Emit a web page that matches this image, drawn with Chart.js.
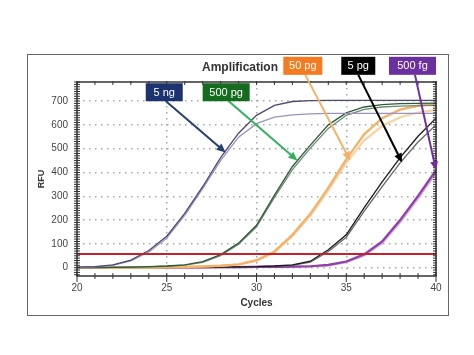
<!DOCTYPE html>
<html><head><meta charset="utf-8">
<script src="https://cdn.jsdelivr.net/npm/chart.js@4.4.1/dist/chart.umd.min.js"></script>
<style>
html,body{margin:0;padding:0;background:#fff;}
#wrap{position:relative;width:474px;height:355px;}
#frame{position:absolute;left:27px;top:54px;width:422px;height:262px;border:1.5px solid #666;box-sizing:border-box;pointer-events:none;}
</style></head><body>
<div id="wrap"><canvas id="c" width="474" height="355"></canvas><div id="frame"></div></div>
<script>
// ---- data ----
const cycles   = [20,21,22,23,24,25,26,27,28,29,30,31,32,33,34,35,36,37,38,39,40];
const ng5A     = [2,4,12,32,72,132,228,340,462,565,640,682,698,702,703,703,703,703,703,703,703];
const ng5B     = [0,3,10,28,66,124,220,332,450,548,605,632,642,646,648,648,648,648,648,648,648];
const pg500A   = [0,0,1,2,4,7,12,25,55,103,178,305,425,515,600,650,675,685,689,690,691];
const pg500B   = [0,0,1,2,3,6,11,22,50,98,172,295,412,502,585,640,665,675,679,681,682];
const pg50A    = [0,0,0,1,1,2,3,5,8,14,31,68,138,226,335,455,560,628,664,680,688];
const pg50B    = [0,0,0,1,1,2,3,5,8,13,29,64,132,218,325,440,535,595,632,652,663];
const pg5A     = [0,0,0,0,0,0,1,1,2,3,4,7,12,27,75,138,252,360,462,552,628];
const pg5B     = [0,0,0,0,0,0,1,1,2,3,4,6,10,23,68,128,238,340,440,528,600];
const fg500A   = [0,0,0,0,0,1,1,1,2,2,3,3,4,6,12,26,56,110,200,302,410];
const fg500B   = [0,0,0,0,0,1,1,1,2,2,3,3,4,5,10,23,52,104,192,292,400];
const threshold = 57;
const seriesNames = ['5 ng','500 pg','50 pg','5 pg','500 fg'];
const xTickLabels = [20,25,30,35,40];
const yTickLabels = [0,100,200,300,400,500,600,700];
const chartTitle = 'Amplification';

// ---- styles ----
const FONT = 'Liberation Sans, Arial, sans-serif';
const lineStyles = [
  {data: ng5A,  color:'#4e4870', w:1.3}, {data: ng5B,  color:'#9a92c0', w:1.3},
  {data: pg500A,color:'#2f5a3a', w:1.3}, {data: pg500B,color:'#6b8a70', w:1.3},
  {data: pg50A, color:'#f3b36a', w:2.4}, {data: pg50B, color:'#f8d3a4', w:2.2},
  {data: pg5A,  color:'#1a1a1a', w:1.3}, {data: pg5B,  color:'#666666', w:1.3},
  {data: fg500A,color:'#8e3fa8', w:2.2}, {data: fg500B,color:'#d49ade', w:2.2}
];
const datasets = lineStyles.map(s => ({
  data: cycles.map((c,i)=>({x:c, y:s.data[i]})),
  borderColor: s.color, borderWidth: s.w, pointRadius: 0, tension: 0, fill:false, order: 2
}));
datasets.push({
  data: [{x:cycles[0], y:threshold}, {x:cycles[cycles.length-1], y:threshold}],
  borderColor:'#c8202a', borderWidth:2, pointRadius:0, tension:0, order:1
});

// callouts: box centre & arrow in data coordinates (cycle, RFU)
const callouts = [
  {name: seriesNames[0], box:[24.86,737], w:37, h:18, from:[24.94,700], to:[28.28,484], bg:'#1c3370', arrow:'#24406e'},
  {name: seriesNames[1], box:[28.31,737], w:47, h:18, from:[28.44,700], to:[32.28,450], bg:'#156b1e', arrow:'#33b060'},
  {name: seriesNames[2], box:[32.58,848], w:39, h:18, from:[32.72,810], to:[35.22,450], bg:'#f47b20', arrow:'#f5b06a'},
  {name: seriesNames[3], box:[35.67,848], w:34, h:18, from:[35.67,810], to:[38.11,442], bg:'#000000', arrow:'#000000'},
  {name: seriesNames[4], box:[38.69,848], w:47, h:18, from:[38.83,810], to:[40.0,409],  bg:'#6b2fa0', arrow:'#7030a0'}
];

const framePlugin = {
  id:'frame',
  afterDatasetsDraw(chart){
    const {ctx, chartArea:a, scales:{x,y}} = chart;
    ctx.save();
    ctx.strokeStyle='#333'; ctx.lineWidth=1.5;
    ctx.strokeRect(a.left, a.top, a.right-a.left, a.bottom-a.top);
    ctx.lineWidth=1;
    ctx.beginPath();
    for(let c=20;c<=40;c++){
      const px=x.getPixelForValue(c);
      const major = c%5===0;
      ctx.moveTo(px, a.bottom-3); ctx.lineTo(px, a.bottom+(major?6:3));
      ctx.moveTo(px, a.top-1); ctx.lineTo(px, a.top+3);
    }
    for(let v=-30; v<=780; v+=10){
      const py=y.getPixelForValue(v);
      ctx.moveTo(a.left-3, py); ctx.lineTo(a.left+3, py);
      ctx.moveTo(a.right-3, py); ctx.lineTo(a.right+1, py);
    }
    ctx.stroke();
    ctx.restore();
  },
  afterDraw(chart){
    const {ctx, scales:{x,y}} = chart;
    ctx.save();
    // chart title
    ctx.fillStyle='#333'; ctx.font='bold 12px '+FONT; ctx.textAlign='center'; ctx.textBaseline='middle';
    ctx.fillText(chartTitle, 240, 68);
    callouts.forEach(co=>{
      const fx=x.getPixelForValue(co.from[0]), fy=y.getPixelForValue(co.from[1]);
      const tx=x.getPixelForValue(co.to[0]), ty=y.getPixelForValue(co.to[1]);
      const ang=Math.atan2(ty-fy, tx-fx), head=9;
      ctx.strokeStyle=co.arrow; ctx.fillStyle=co.arrow; ctx.lineWidth=2;
      ctx.beginPath(); ctx.moveTo(fx,fy);
      ctx.lineTo(tx-Math.cos(ang)*head*0.8, ty-Math.sin(ang)*head*0.8); ctx.stroke();
      ctx.beginPath(); ctx.moveTo(tx,ty);
      ctx.lineTo(tx-head*Math.cos(ang)+4*Math.sin(ang), ty-head*Math.sin(ang)-4*Math.cos(ang));
      ctx.lineTo(tx-head*Math.cos(ang)-4*Math.sin(ang), ty-head*Math.sin(ang)+4*Math.cos(ang));
      ctx.closePath(); ctx.fill();
      const bx=x.getPixelForValue(co.box[0]), by=y.getPixelForValue(co.box[1]);
      ctx.fillStyle=co.bg;
      ctx.fillRect(bx-co.w/2, by-co.h/2, co.w, co.h);
      ctx.fillStyle='#fff'; ctx.font='11px '+FONT; ctx.textAlign='center'; ctx.textBaseline='middle';
      ctx.fillText(co.name, bx, by+0.5);
    });
    ctx.restore();
  }
};

new Chart(document.getElementById('c'), {
  type:'line',
  data:{datasets},
  plugins:[framePlugin],
  options:{
    responsive:false, animation:false, devicePixelRatio:1,
    layout:{padding:{top:82,right:38,bottom:46,left:0}},
    plugins:{
      legend:{display:false}, tooltip:{enabled:false}, title:{display:false}
    },
    scales:{
      x:{type:'linear', min:20, max:40,
        afterBuildTicks(s){ s.ticks = xTickLabels.map(v=>({value:v})); },
        ticks:{padding:6, color:'#444', font:{family:FONT,size:10}, autoSkip:false, maxRotation:0},
        grid:{drawTicks:false, color:'#a8a8a8', lineWidth:1.5},
        border:{display:false, dash:[1.5,4.5]},
        title:{display:true, text:'Cycles', color:'#333', font:{family:FONT,size:10,weight:'bold'}, padding:{top:3,bottom:0}},
        afterFit(s){ s.height=33; }
      },
      y:{type:'linear', min:-35, max:780,
        afterBuildTicks(s){ s.ticks = yTickLabels.map(v=>({value:v})); },
        ticks:{padding:9, color:'#444', font:{family:FONT,size:10}, autoSkip:false},
        grid:{drawTicks:false, color:'#a8a8a8', lineWidth:1.5},
        border:{display:false, dash:[1.5,4.5]},
        title:{display:true, text:'RFU', color:'#333', font:{family:FONT,size:9,weight:'bold'}, padding:{top:36,bottom:0}},
        afterFit(s){ s.width=77; }
      }
    }
  }
});
</script>
</body></html>
